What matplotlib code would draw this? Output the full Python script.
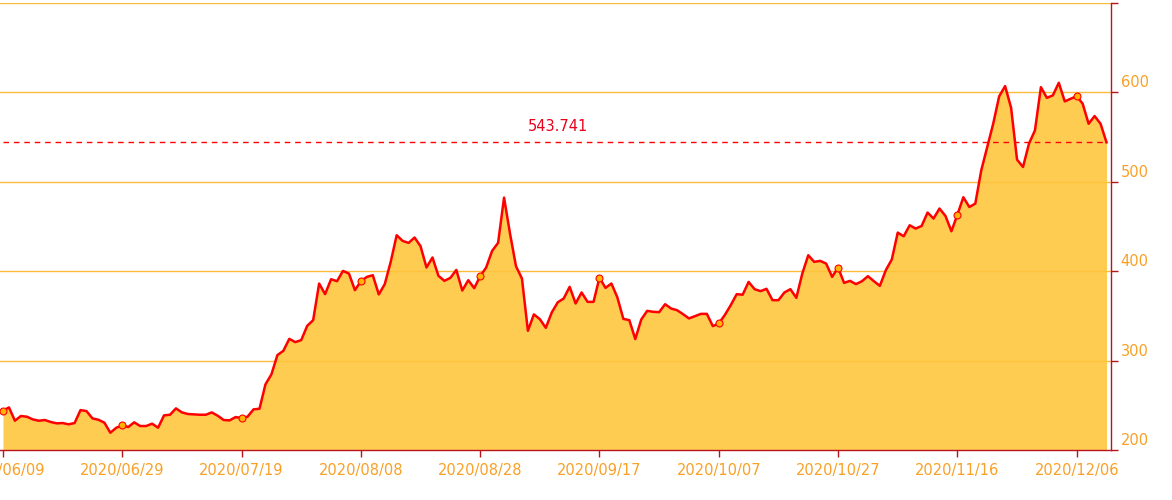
#!/usr/bin/env python3

import matplotlib

matplotlib.use("Agg")

import matplotlib.pyplot as plt
import matplotlib.transforms as mtransforms
import pandas as pd

START_DATE = "2020-06-09"

# daily values, one per calendar day
values = [
    243.9, 247.6, 232.7, 238.0, 237.2, 234.2, 232.7, 233.5, 231.3, 229.8,
    230.1, 228.7, 230.1, 244.6, 243.5, 235.3, 233.8, 230.5, 219.3, 224.9,
    227.5, 225.7, 230.9, 226.8, 226.8, 229.4, 224.9, 238.7, 239.4, 246.5,
    242.0, 240.2, 239.8, 239.4, 239.4, 242.0, 238.3, 233.5, 233.1, 236.8,
    235.7, 237.2, 245.4, 246.1, 273.3, 284.5, 306.0, 310.8, 324.2, 320.5,
    322.8, 338.7, 345.1, 386.0, 374.1, 390.8, 388.6, 400.1, 397.1, 378.6,
    388.6, 393.4, 395.3, 373.8, 385.3, 410.2, 440.0, 433.6, 431.4, 437.4,
    427.7, 403.9, 415.1, 394.6, 389.0, 392.3, 401.2, 378.2, 389.7, 380.8,
    394.2, 403.9, 422.5, 431.4, 482.0, 441.8, 405.4, 391.6, 333.2, 351.5,
    346.2, 336.5, 353.7, 365.0, 369.3, 382.3, 363.7, 376.0, 365.5, 365.5,
    392.7, 381.1, 386.0, 370.4, 346.5, 345.1, 323.9, 345.8, 355.5, 354.4,
    354.0, 362.9, 358.1, 356.2, 351.8, 347.0, 349.6, 352.1, 352.1, 338.4,
    341.4, 350.7, 361.8, 374.1, 373.5, 387.8, 379.7, 377.5, 380.1, 367.4,
    367.4, 376.0, 379.7, 370.0, 397.2, 417.6, 410.2, 411.3, 408.3, 393.4,
    403.9, 386.7, 389.0, 385.3, 388.6, 394.2, 388.6, 383.4, 400.9, 412.8,
    442.9, 438.8, 451.1, 447.4, 450.3, 465.3, 458.6, 469.8, 461.5, 444.4,
    463.0, 482.4, 471.5, 475.3, 512.5, 538.5, 564.5, 595.1, 606.6, 582.4,
    524.4, 516.2, 542.3, 557.1, 605.4, 593.5, 596.2, 610.3, 589.5, 592.5,
    595.4, 586.9, 564.5, 573.1, 564.5, 543.741,
]
mark_value = 543.741
y_ticks = [200, 300, 400, 500, 600, 700]
y_labels = ["200", "300", "400", "500", "600"]

AXIS_RED = "#b8141e"
LABEL_ORANGE = "#f9a026"
LINE_RED = "#ff0000"
FILL = "#ffc53a"
GRID = "#fbbb3c"

dates = pd.date_range(START_DATE, periods=len(values), freq="D")
labels = [d.strftime("%Y/%m/%d") for d in dates]
xs = list(range(len(values)))

fig = plt.figure(figsize=(11.72, 5.0), dpi=100)
ax = fig.add_axes([0.0, 0.1, 1110.7 / 1172, 0.895])

ax.set_xlim(-0.5, len(values) - 1 + 0.7)
ax.set_ylim(200, 700)

for yv in y_ticks[1:]:
    ax.axhline(yv, color=GRID, lw=1.0, zorder=1)

ax.fill_between(xs, values, 200, color=FILL, alpha=0.88, lw=0, zorder=2)
ax.plot(xs, values, color=LINE_RED, lw=1.8, zorder=4, solid_joinstyle="round")

mark_idx = xs[::20]
ax.plot(
    mark_idx,
    [values[i] for i in mark_idx],
    ls="none",
    marker="o",
    ms=5,
    mfc="#ffb400",
    mec=LINE_RED,
    mew=0.8,
    zorder=5,
)

ax.plot([0, xs[-1]], [mark_value, mark_value], color=LINE_RED, lw=1.0,
        ls=(0, (4, 3.5)), zorder=3)
ax.text((xs[-1]) / 2 + 0.5, mark_value + 9, f"{mark_value:g}", color="#e8001c",
        fontsize=10.5, ha="center", va="bottom", zorder=6)

for side in ["top", "left"]:
    ax.spines[side].set_visible(False)
ax.spines["bottom"].set_color(AXIS_RED)
ax.spines["right"].set_color(AXIS_RED)
ax.spines["bottom"].set_linewidth(1.0)
ax.spines["right"].set_linewidth(1.0)
ax.spines["bottom"].set_zorder(6)
ax.spines["right"].set_zorder(6)

ax.set_xticks(mark_idx)
ax.set_xticklabels([labels[i] for i in mark_idx])
ax.tick_params(axis="x", colors=AXIS_RED, length=5, width=1.0, pad=4,
               labelcolor=LABEL_ORANGE, labelsize=10.5)

ax.yaxis.tick_right()
ax.set_yticks(y_ticks)
ax.set_yticklabels([])
ax.tick_params(axis="y", colors=AXIS_RED, length=5, width=1.0, direction="out")

# labels sit just above their tick, like the original
trans = mtransforms.blended_transform_factory(ax.transAxes, ax.transData)
for yv, lab in zip(y_ticks, y_labels):
    ax.text(1.0 + 10 / 1110.7, yv + 2, lab, transform=trans, color=LABEL_ORANGE,
            fontsize=10.5, ha="left", va="bottom", clip_on=False)

fig.savefig("out.png", dpi=100)
